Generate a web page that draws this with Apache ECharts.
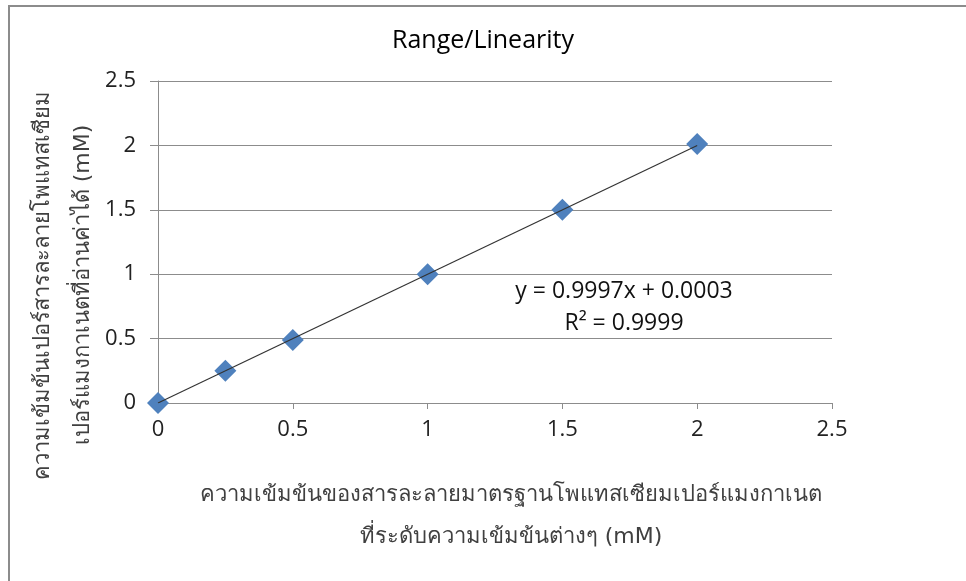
<!DOCTYPE html>
<html>
<head>
<meta charset="utf-8">
<script src="https://cdn.jsdelivr.net/npm/echarts@6/dist/echarts.min.js"></script>
<style>
  html, body { margin: 0; padding: 0; background: #fff; }
  #chart { width: 966px; height: 581px; }
</style>
</head>
<body>
<div id="chart"></div>
<script>
// measured concentration vs standard concentration (mM)
const stdConc = [0, 0.25, 0.5, 1, 1.5, 2];
const readConc = [0, 0.25, 0.49, 1, 1.5, 2.01];
const trendX = [0, 2];
const trendY = [0.0003, 1.9997];
const axisTicks = [0, 0.5, 1, 1.5, 2, 2.5];

const fontThai = '"DejaVu Sans", "Noto Sans", "Open Sans", sans-serif';
const fontLatin = '"Open Sans", "Liberation Sans", sans-serif';

const chart = echarts.init(document.getElementById('chart'));

chart.setOption({
  animation: false,
  title: {
    text: 'Range/Linearity',
    left: 'center',
    top: 23,
    textStyle: { fontFamily: fontLatin, fontSize: 25, fontWeight: 'normal', color: '#000' },
  },
  grid: { left: 158, right: 134, top: 81, bottom: 178 },
  xAxis: {
    type: 'value',
    min: axisTicks[0],
    max: axisTicks[axisTicks.length - 1],
    interval: 0.5,
    splitLine: { show: false },
    axisLine: { show: true, onZero: false, lineStyle: { color: '#8c8c8c', width: 1 } },
    axisTick: { show: true, length: 6, lineStyle: { color: '#8c8c8c' } },
    axisLabel: { fontFamily: fontLatin, fontSize: 22, color: '#222', margin: 16 },
  },
  yAxis: {
    type: 'value',
    min: axisTicks[0],
    max: axisTicks[axisTicks.length - 1],
    interval: 0.5,
    splitLine: { show: true, lineStyle: { color: '#8c8c8c', width: 1 } },
    axisLine: { show: true, onZero: false, lineStyle: { color: '#8c8c8c', width: 1 } },
    axisTick: { show: true, length: 8, lineStyle: { color: '#8c8c8c' } },
    axisLabel: { fontFamily: fontLatin, fontSize: 22, color: '#222', margin: 22 },
  },
  series: [
    {
      name: 'trend',
      type: 'line',
      data: trendX.map((x, i) => [x, trendY[i]]),
      showSymbol: false,
      lineStyle: { color: '#333', width: 1.2 },
      z: 3,
    },
    {
      name: 'data',
      type: 'scatter',
      symbol: 'diamond',
      symbolSize: 22,
      data: stdConc.map((x, i) => [x, readConc[i]]),
      itemStyle: { color: '#4f81bd', opacity: 1 },
      z: 2,
    },
  ],
  graphic: [
    {
      type: 'polyline',
      shape: { points: [[9, 581], [9, 6], [966, 6]] },
      style: { fill: 'none', stroke: '#8c8c8c', lineWidth: 2 },
      silent: true,
    },
    {
      type: 'text',
      x: 624, y: 291,
      style: {
        text: 'y = 0.9997x + 0.0003', font: '23px ' + fontLatin, fill: '#111',
        align: 'center', verticalAlign: 'middle',
      },
    },
    {
      type: 'text',
      x: 624, y: 323,
      style: {
        text: 'R² = 0.9999', font: '23px ' + fontLatin, fill: '#111',
        align: 'center', verticalAlign: 'middle',
      },
    },
    {
      type: 'text',
      x: 511, y: 495,
      style: {
        text: 'ความเข้มข้นของสารละลายมาตรฐานโพแทสเซียมเปอร์แมงกาเนต',
        font: '22px ' + fontThai, fill: '#404040',
        align: 'center', verticalAlign: 'middle',
      },
    },
    {
      type: 'text',
      x: 511, y: 537,
      style: {
        text: 'ที่ระดับความเข้มข้นต่างๆ (mM)',
        font: '22px ' + fontThai, fill: '#404040',
        align: 'center', verticalAlign: 'middle',
      },
    },
    {
      type: 'text',
      x: 43, y: 285,
      rotation: Math.PI / 2,
      style: {
        text: 'ความเข้มข้นเปอร์สารละลายโพแทสเซียม',
        font: '22px ' + fontThai, fill: '#404040',
        align: 'center', verticalAlign: 'middle',
      },
    },
    {
      type: 'text',
      x: 83, y: 285,
      rotation: Math.PI / 2,
      style: {
        text: 'เปอร์แมงกาเนตที่อ่านค่าได้ (mM)',
        font: '22px ' + fontThai, fill: '#404040',
        align: 'center', verticalAlign: 'middle',
      },
    },
  ],
});
</script>
</body>
</html>
